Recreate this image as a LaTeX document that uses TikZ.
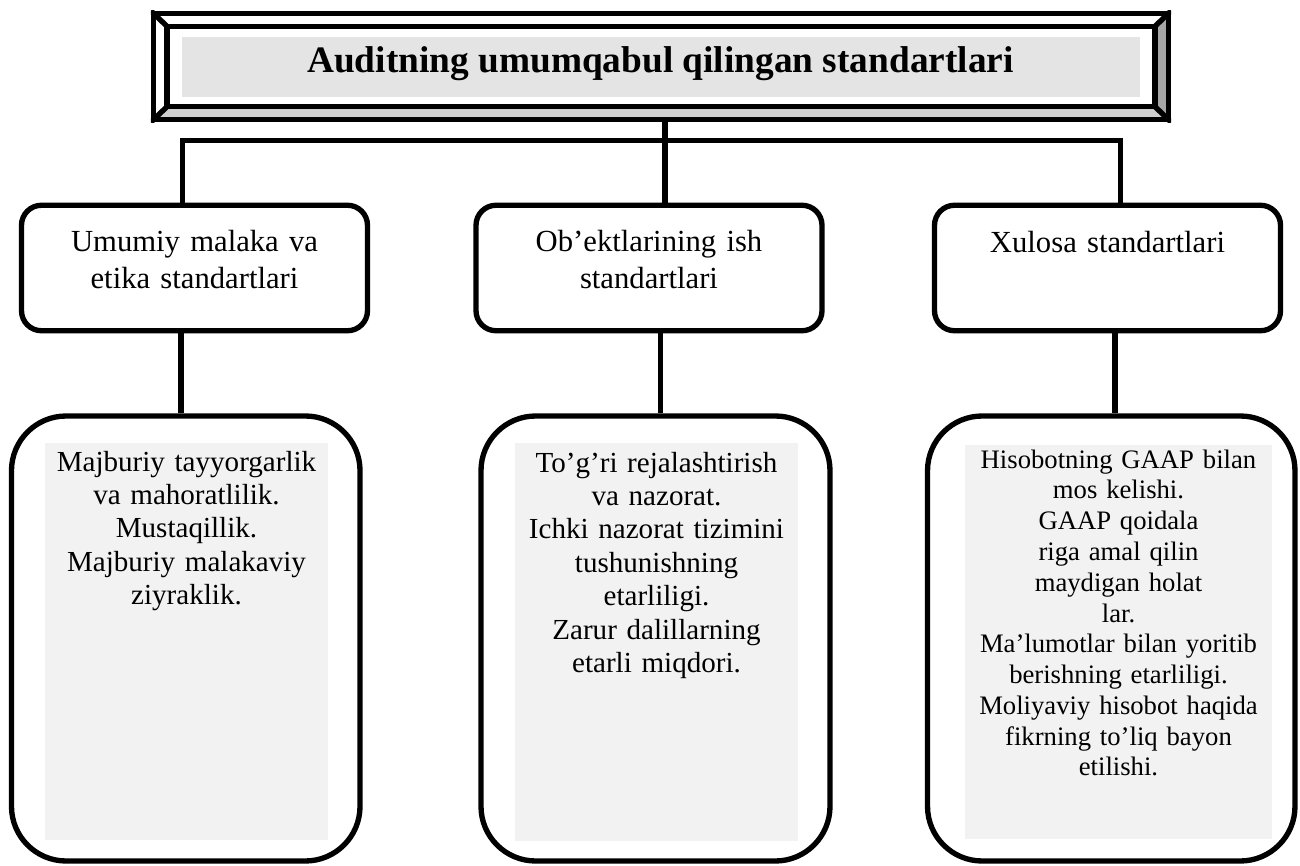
\documentclass[tikz,border=0pt]{standalone}
\usepackage{fontspec}
\setmainfont{Liberation Serif}
\definecolor{titlegrey}{HTML}{E4E4E4}
\definecolor{boxgrey}{HTML}{F2F2F2}
\definecolor{bevelright}{HTML}{A6A6A6}
\definecolor{bevelbottom}{HTML}{CFCFCF}
\begin{document}
\begin{tikzpicture}[x=0.75pt,y=-0.75pt,line width=4pt,
  midbox/.style={draw,rounded corners=15pt,minimum width=259.5pt,minimum height=94.1pt,inner sep=0pt},
  botbox/.style={draw,rounded corners=41pt,minimum height=333.75pt,inner sep=0pt},
  shade/.style={fill=boxgrey,inner sep=0pt},
  midtext/.style={anchor=base,align=center,text width=255pt,inner sep=0pt,font=\fontsize{23}{27.5}\selectfont},
  bottext/.style={anchor=base,align=center,text width=215pt,inner sep=0pt,font=\fontsize{21.8}{25.1}\selectfont},
  conn/.style={line width=3.8pt}]
\useasboundingbox (0,0) rectangle (1300,866);
% title bevel frame
\coordinate (oTL) at (153.5,13.5);
\coordinate (oTR) at (1168.5,13.5);
\coordinate (oBR) at (1168.5,119.5);
\coordinate (oBL) at (153.5,119.5);
\coordinate (iTL) at (167,26.3);
\coordinate (iTR) at (1155,26.3);
\coordinate (iBR) at (1155,106.7);
\coordinate (iBL) at (167,106.7);
\fill[bevelright] (oTR) -- (oBR) -- (iBR) -- (iTR) -- cycle;
\fill[bevelbottom] (oBL) -- (oBR) -- (iBR) -- (iBL) -- cycle;
\node[draw,minimum width=761.25pt,minimum height=79.5pt,inner sep=0pt] (frame) at (661,66.5) {};
\draw (iTL) rectangle (iBR);
\begin{scope}
  \clip (150.8,10.8) rectangle (1171.2,122.2);
  \draw (frame.north west) -- (iTL);
  \draw (frame.north east) -- (iTR);
  \draw (frame.south east) -- (iBR);
  \draw (frame.south west) -- (iBL);
\end{scope}
\node[fill=titlegrey,minimum width=718.5pt,minimum height=45.5pt,inner sep=0pt] (titlebg) at (661,67) {};
\node[anchor=base,inner sep=0pt,font=\fontsize{28}{32}\selectfont\bfseries] (title) at (660.5,72.7) {Auditning umumqabul qilingan standartlari};
% middle boxes
\node[midbox] (mid1) at (194.5,268) {};
\node[midbox] (mid2) at (649,268) {};
\node[midbox] (mid3) at (1107.5,268) {};
\node[midtext] (m1) at (194.5,252) {Umumiy malaka va\\etika standartlari};
\node[midtext] (m2) at (649,252) {Ob’ektlarining ish\\standartlari};
\node[midtext] (m3) at (1107.5,253) {Xulosa standartlari};
% bottom boxes
\node[botbox,minimum width=261.4pt] (bot1) at (185.75,638.5) {};
\node[botbox,minimum width=261.75pt] (bot2) at (655.5,638.5) {};
\node[botbox,minimum width=275.6pt] (bot3) at (1111.25,638.5) {};
\node[shade,minimum width=212.25pt,minimum height=297.75pt] (g1) at (186.5,641.5) {};
\node[shade,minimum width=212.25pt,minimum height=298.5pt] (g2) at (656.5,642) {};
\node[shade,minimum width=230.25pt,minimum height=295.5pt] (g3) at (1118.5,642) {};
\node[bottext] (t1) at (186.5,471) {Majburiy tayyorgarlik\\va mahoratlilik.\\Mustaqillik.\\Majburiy malakaviy\\ziyraklik.};
\node[bottext] (t2) at (656.5,472) {To’g’ri rejalashtirish\\va nazorat.\\Ichki nazorat tizimini\\tushunishning\\etarliligi.\\Zarur dalillarning\\etarli miqdori.};
\node[bottext,text width=235pt,font=\fontsize{20}{23.1}\selectfont] (t3) at (1118.5,468) {Hisobotning GAAP bilan\\mos kelishi.\\GAAP qoidala\\riga amal qilin\\maydigan holat\\lar.\\Ma’lumotlar bilan yoritib\\berishning etarliligi.\\Moliyaviy hisobot haqida\\fikrning to’liq bayon\\etilishi.};
% connectors
\coordinate (cL) at (182.5,140.5);
\coordinate (cT) at (665,140.5);
\coordinate (cR) at (1120.5,140.5);
\draw[conn] (mid1.north -| cL) |- (cR) -- (mid3.north -| cR);
\draw[conn] (frame.south -| cT) -- (mid2.north -| cT);
\coordinate (d1) at (181,0);
\coordinate (d2) at (660.5,0);
\coordinate (d3) at (1115,0);
\draw[conn] (mid1.south -| d1) -- (bot1.north -| d1);
\draw[conn] (mid2.south -| d2) -- (bot2.north -| d2);
\draw[conn] (mid3.south -| d3) -- (bot3.north -| d3);
\end{tikzpicture}
\end{document}
